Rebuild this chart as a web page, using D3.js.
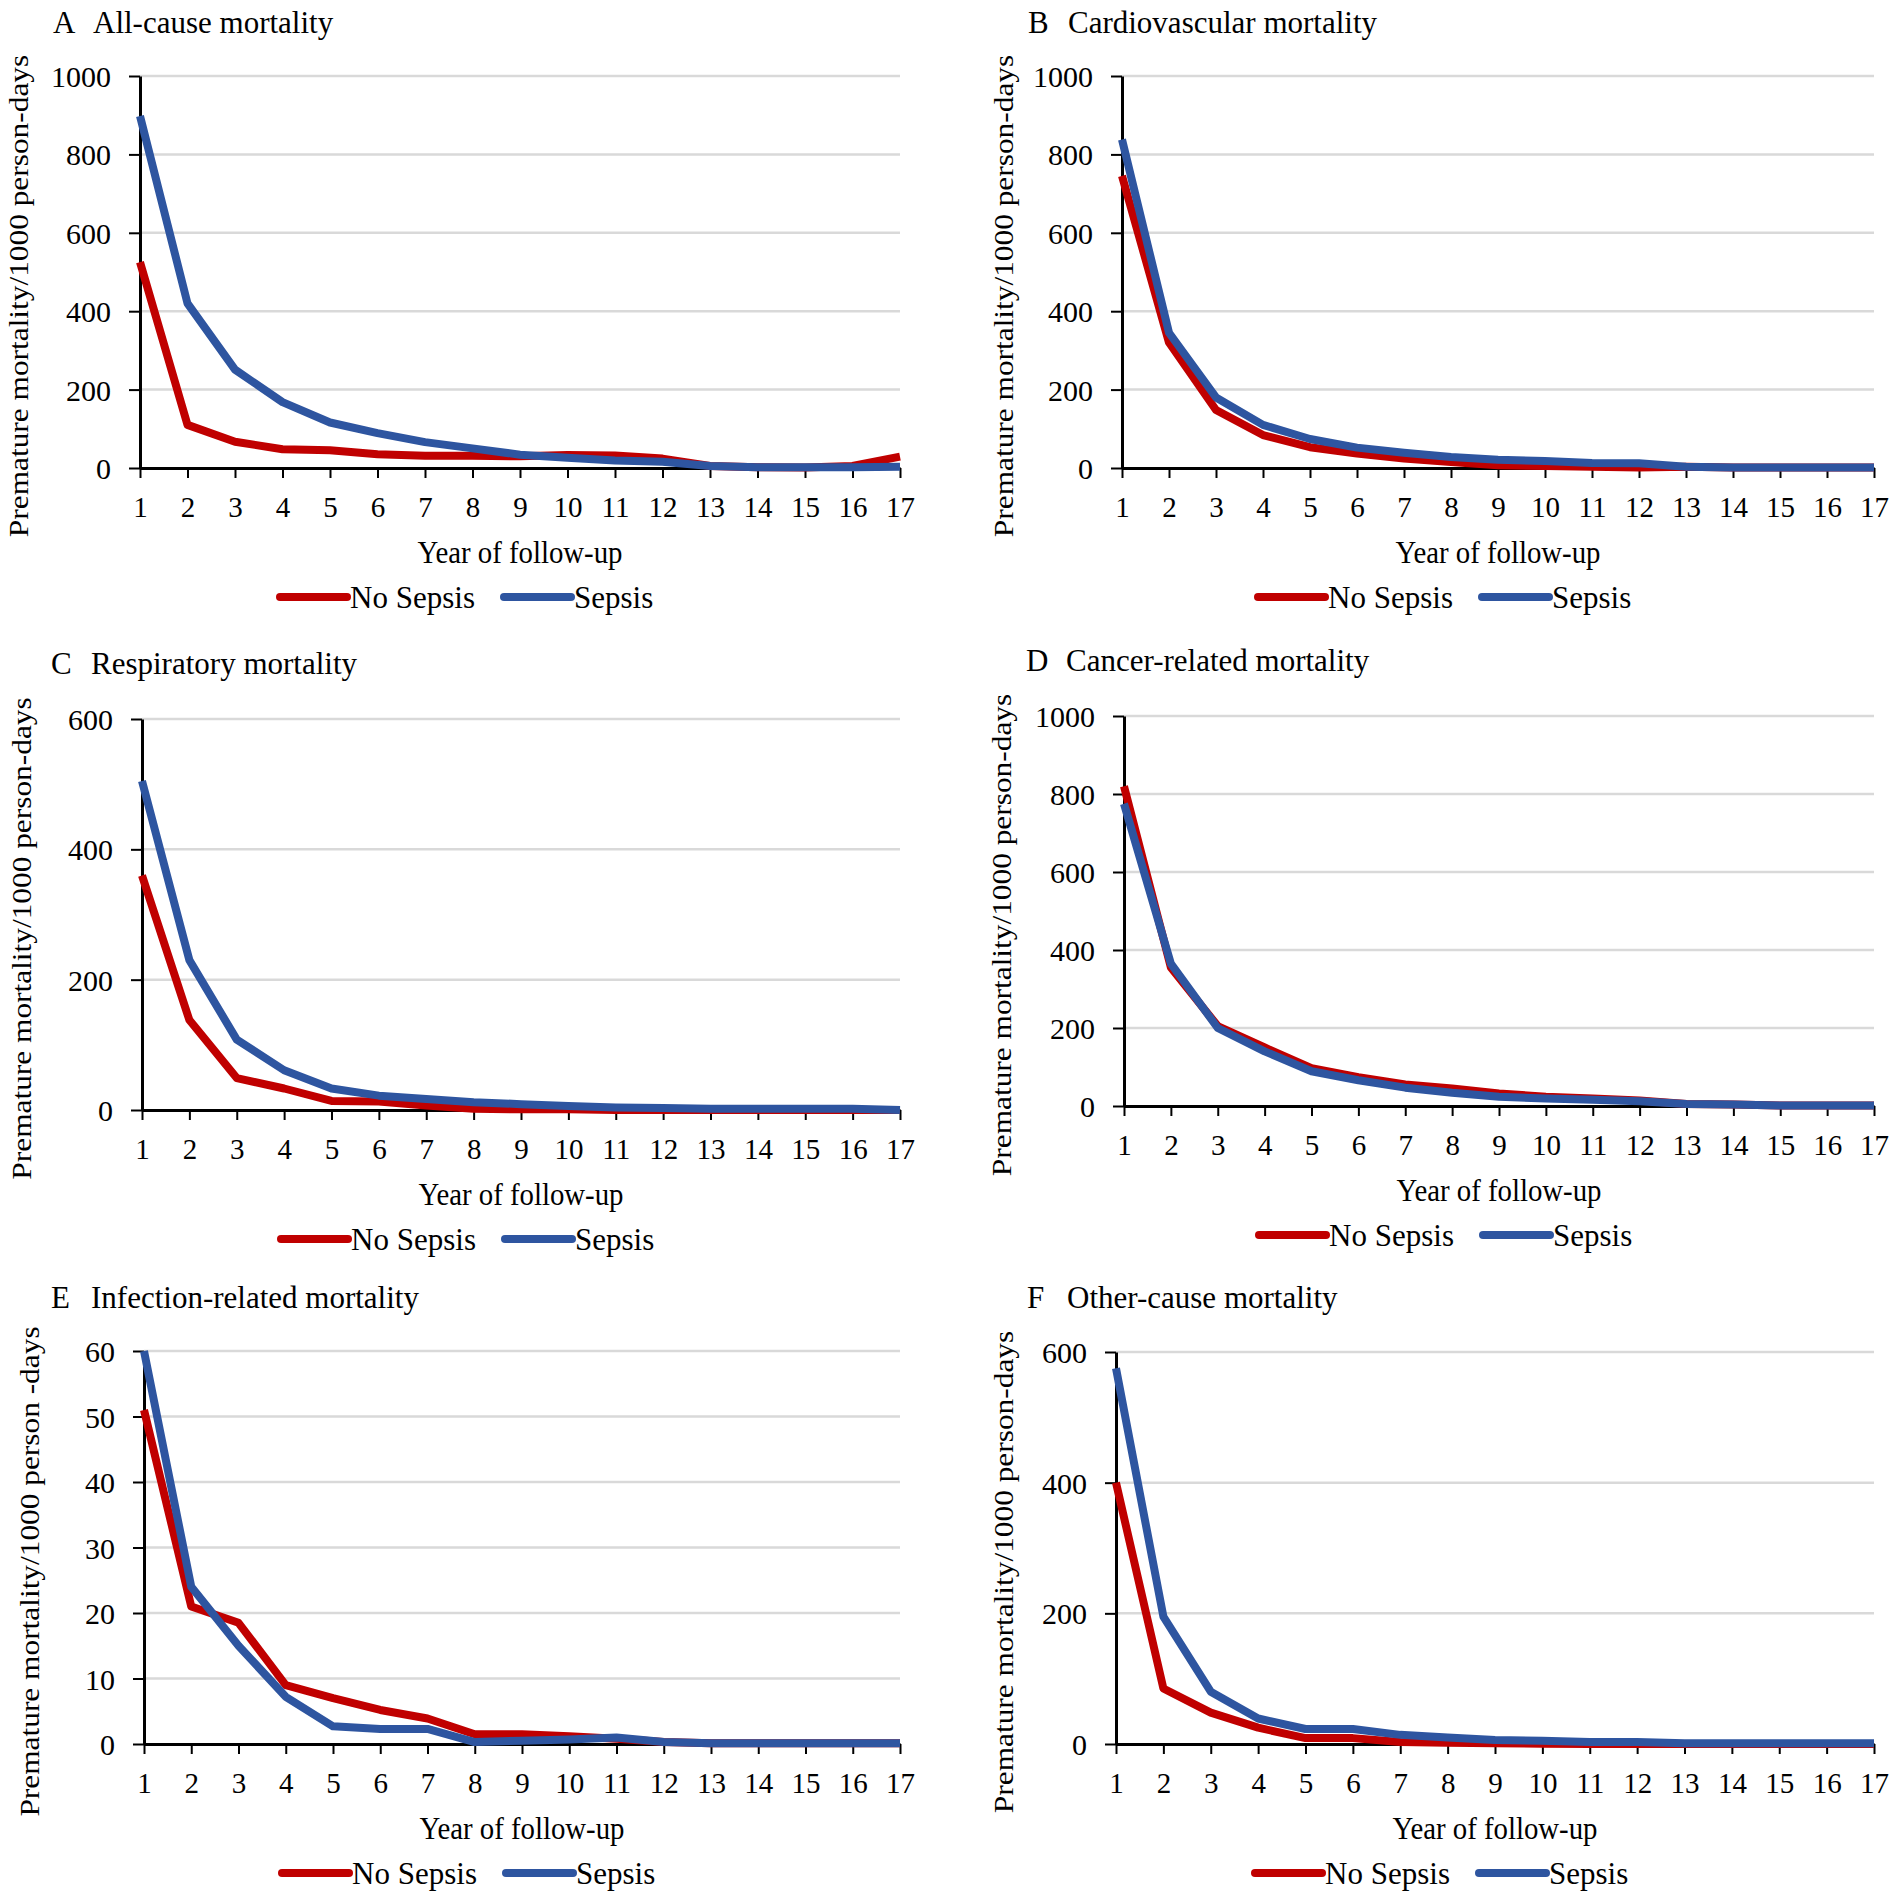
<!DOCTYPE html>
<html>
<head>
<meta charset="utf-8">
<script src="https://cdn.jsdelivr.net/npm/d3@7"></script>
<style>
body { margin: 0; background: #fff; }
text { font-family: "Liberation Serif", "Times New Roman", serif; fill: #000; }
</style>
</head>
<body>
<div id="chart"></div>
<script>
// data
var years = [1, 2, 3, 4, 5, 6, 7, 8, 9, 10, 11, 12, 13, 14, 15, 16, 17];
var seriesNames = ["No Sepsis", "Sepsis"];
var panelLetters = ["A", "B", "C", "D", "E", "F"];
var panelTitles = ["All-cause mortality", "Cardiovascular mortality", "Respiratory mortality",
                   "Cancer-related mortality", "Infection-related mortality", "Other-cause mortality"];
var yTitles = ["Premature mortality/1000 person-days", "Premature mortality/1000 person-days",
               "Premature mortality/1000 person-days", "Premature mortality/1000 person-days",
               "Premature mortality/1000 person -days", "Premature mortality/1000 person-days"];

var yTicks1000 = [0, 200, 400, 600, 800, 1000];
var yTicks600 = [0, 200, 400, 600];
var yTicks60 = [0, 10, 20, 30, 40, 50, 60];

var noSepsisA = [525, 110, 67, 48, 45, 35, 31, 31, 30, 33, 32, 24, 5, 2, 1, 5, 29];
var sepsisA   = [898, 420, 251, 168, 116, 89, 66, 50, 34, 26, 19, 16, 5, 2, 2, 2, 3];
var noSepsisB = [745, 320, 148, 84, 53, 37, 24, 15, 7, 5, 3, 1, 3, 1, 1, 1, 1];
var sepsisB   = [838, 345, 180, 110, 74, 52, 39, 28, 21, 18, 13, 12, 3, 1, 1, 1, 1];
var noSepsisC = [360, 138, 49, 33, 14, 13, 7, 2, 1, 1, 0, 0, 0, 0, 0, 0, 0];
var sepsisC   = [505, 230, 108, 61, 33, 22, 17, 12, 9, 6, 4, 3, 2, 2, 2, 2, 0];
var noSepsisD = [820, 355, 205, 150, 97, 74, 55, 45, 32, 24, 19, 14, 5, 4, 1, 1, 1];
var sepsisD   = [775, 365, 200, 140, 89, 66, 47, 34, 24, 19, 16, 12, 5, 4, 1, 1, 1];
var noSepsisE = [51, 21, 18.5, 9, 7, 5.2, 3.9, 1.5, 1.5, 1.2, 0.8, 0.3, 0.1, 0.1, 0.1, 0.1, 0.1];
var sepsisE   = [60, 24, 15, 7.2, 2.7, 2.3, 2.3, 0.3, 0.5, 0.7, 1.0, 0.3, 0.1, 0.1, 0.1, 0.1, 0.1];
var noSepsisF = [400, 85, 48, 25, 9, 9, 3, 2, 1, 0.5, 0, 0, 0, 0, 0, 0, 0];
var sepsisF   = [575, 195, 80, 39, 23, 23, 14, 10, 6, 5, 3, 3, 1, 1, 1, 1, 1];

var colors = ["#C00000", "#2E55A0"];

var panels = [
    {series: [noSepsisA, sepsisA], ticks: yTicks1000, left: 140, right: 900, top: 76, bottom: 468, titleX: 53, titleY: 33, yTitleX: 19},
    {series: [noSepsisB, sepsisB], ticks: yTicks1000, left: 1122, right: 1874, top: 76, bottom: 468, titleX: 1028, titleY: 33, yTitleX: 1004},
    {series: [noSepsisC, sepsisC], ticks: yTicks600, left: 142, right: 900, top: 719, bottom: 1110, titleX: 51, titleY: 674, yTitleX: 22},
    {series: [noSepsisD, sepsisD], ticks: yTicks1000, left: 1124, right: 1874, top: 716, bottom: 1106, titleX: 1026, titleY: 671, yTitleX: 1002},
    {series: [noSepsisE, sepsisE], ticks: yTicks60, left: 144, right: 900, top: 1351, bottom: 1744, titleX: 51, titleY: 1308, yTitleX: 30},
    {series: [noSepsisF, sepsisF], ticks: yTicks600, left: 1116, right: 1874, top: 1352, bottom: 1744, titleX: 1027, titleY: 1308, yTitleX: 1004}
];

var svg = d3.select("#chart").append("svg")
    .attr("width", 1902)
    .attr("height", 1902);

function label(g, x, y, s, anchor, size, sx) {
    return g.append("text")
        .attr("transform", "translate(" + x + "," + y + ") scale(" + sx + ",1)")
        .attr("text-anchor", anchor)
        .attr("dominant-baseline", "central")
        .style("font-size", size + "px")
        .text(s);
}

panels.forEach(function(p, k) {
    var g = svg.append("g");
    var ticks = p.ticks;
    var x = d3.scaleLinear().domain([1, 17]).range([p.left, p.right]);
    var y = d3.scaleLinear().domain([0, ticks[ticks.length - 1]]).range([p.bottom, p.top]);

    // gridlines
    g.selectAll(".grid").data(ticks.slice(1)).enter().append("line")
        .attr("x1", p.left).attr("x2", p.right)
        .attr("y1", function(d) { return y(d); })
        .attr("y2", function(d) { return y(d); })
        .attr("stroke", "#d9d9d9")
        .attr("stroke-width", 2.5);

    // axes
    var xAxis = d3.axisBottom(x).tickValues(years).tickSize(10).tickSizeOuter(0);
    var gx = g.append("g")
        .attr("transform", "translate(0," + p.bottom + ")")
        .call(xAxis);
    gx.select(".domain").attr("stroke", "#000").attr("stroke-width", 3);
    gx.selectAll(".tick line").attr("stroke", "#000").attr("stroke-width", 2);
    gx.selectAll(".tick text")
        .attr("y", 39).attr("dy", null)
        .attr("dominant-baseline", "central")
        .style("font-size", "29px");

    var yAxis = d3.axisLeft(y).tickValues(ticks).tickFormat(d3.format("d"))
        .tickSize(11).tickSizeOuter(0).tickPadding(18);
    var gy = g.append("g")
        .attr("transform", "translate(" + p.left + ",0)")
        .call(yAxis);
    gy.select(".domain").attr("stroke", "#000").attr("stroke-width", 3);
    gy.selectAll(".tick line").attr("stroke", "#000").attr("stroke-width", 2);
    gy.selectAll(".tick text")
        .attr("dy", null)
        .attr("dominant-baseline", "central")
        .style("font-size", "30px");
    g.selectAll(".tick text").attr("fill", "#000");

    // series
    var line = d3.line()
        .x(function(d, i) { return x(years[i]); })
        .y(function(d) { return y(d); });
    p.series.forEach(function(s, j) {
        g.append("path")
            .attr("d", line(s))
            .attr("fill", "none")
            .attr("stroke", colors[j])
            .attr("stroke-width", 8)
            .attr("stroke-linejoin", "round");
    });

    // titles
    g.append("text").attr("x", p.titleX).attr("y", p.titleY)
        .style("font-size", "31px").text(panelLetters[k]);
    g.append("text").attr("x", p.titleX + 40).attr("y", p.titleY)
        .style("font-size", "31px").text(panelTitles[k]);

    var mid = (p.left + p.right) / 2;
    label(g, mid, p.bottom + 84, "Year of follow-up", "middle", 32, 0.9);

    g.append("text")
        .attr("transform", "translate(" + p.yTitleX + "," + ((p.top + p.bottom) / 2 + 24) + ") rotate(-90) scale(1.12,1)")
        .attr("text-anchor", "middle")
        .attr("dominant-baseline", "central")
        .style("font-size", "28px")
        .text(yTitles[k]);

    // legend
    var ly = p.bottom + 129;
    var starts = [mid - 240, mid - 16];
    seriesNames.forEach(function(name, j) {
        g.append("line")
            .attr("x1", starts[j]).attr("x2", starts[j] + 67)
            .attr("y1", ly).attr("y2", ly)
            .attr("stroke", colors[j])
            .attr("stroke-width", 8)
            .attr("stroke-linecap", "round");
        label(g, starts[j] + 70, ly, name, "start", 32, 0.97);
    });
});
</script>
</body>
</html>
